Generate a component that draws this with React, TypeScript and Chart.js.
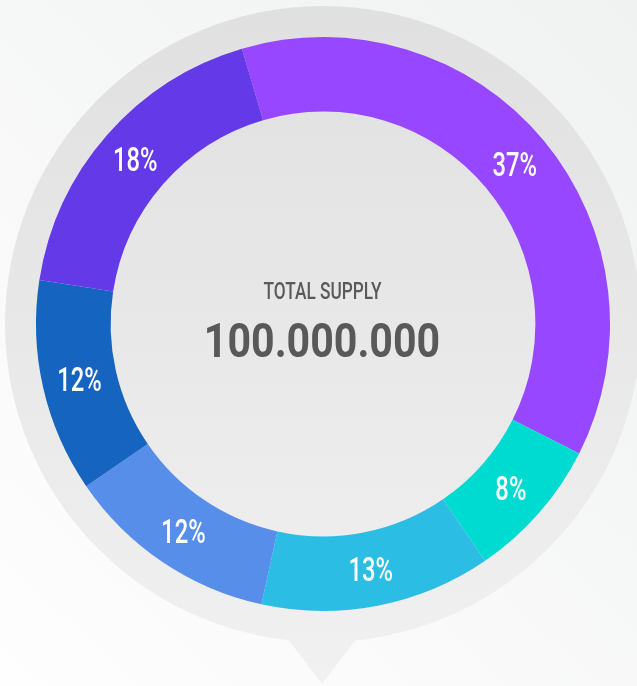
import React, { useEffect, useRef } from "react";
import { Chart, registerables } from "chart.js";

Chart.register(...registerables);

const categories = ["Ecosystem", "Liquidity", "Team", "Marketing", "Reserve", "Public Sale"];
const shares = [37, 8, 13, 12, 12, 18];
const sliceLabels = ["37%", "8%", "13%", "12%", "12%", "18%"];
const sliceColors = ["#9747ff", "#00dbd1", "#2bbde3", "#578eea", "#1565c0", "#6439e8"];
const centerTitle = "TOTAL SUPPLY";
const centerValue = "100.000.000";

const W = 637;
const H = 686;

const backdropPlugin = {
  id: "backdrop",
  beforeDraw(chart: any) {
    const ctx = chart.ctx as CanvasRenderingContext2D;
    const meta = chart.getDatasetMeta(0);
    const arc = meta.data[0] as any;
    const cx = arc.x;
    const cy = arc.y;
    const R = arc.outerRadius + 31;
    ctx.save();
    const bg = ctx.createLinearGradient(W, 0, 0, H);
    bg.addColorStop(0, "#f0f1f1");
    bg.addColorStop(1, "#fefefe");
    ctx.fillStyle = bg;
    ctx.fillRect(0, 0, W, H);

    const g = ctx.createLinearGradient(0, cy - R, 0, H);
    g.addColorStop(0, "#e0e0e0");
    g.addColorStop(1, "#f1f1f1");
    ctx.fillStyle = g;
    ctx.beginPath();
    ctx.arc(cx, cy, R, 0, Math.PI * 2);
    ctx.fill();
    ctx.beginPath();
    ctx.moveTo(cx - 46, cy + R - 17);
    ctx.lineTo(cx + 44, cy + R - 17);
    ctx.lineTo(cx - 1, H - 2);
    ctx.closePath();
    ctx.fill();
    ctx.restore();
  },
};

const labelPlugin = {
  id: "sliceLabels",
  afterDatasetsDraw(chart: any) {
    const ctx = chart.ctx as CanvasRenderingContext2D;
    const meta = chart.getDatasetMeta(0);
    meta.data.forEach((el: any, i: number) => {
      const mid = (el.startAngle + el.endAngle) / 2;
      const r = (el.innerRadius + el.outerRadius) / 2;
      const x = el.x + Math.cos(mid) * r;
      const y = el.y + Math.sin(mid) * r;
      ctx.save();
      ctx.translate(x, y);
      ctx.scale(0.72, 1);
      ctx.fillStyle = "#ffffff";
      ctx.font = "500 33px Roboto";
      ctx.textAlign = "center";
      ctx.textBaseline = "alphabetic";
      ctx.fillText(sliceLabels[i], 0, 11.7);
      ctx.restore();
    });
  },
};

export default function App() {
  const ref = useRef<HTMLCanvasElement>(null);
  useEffect(() => {
    if (!ref.current) return;
    const chart = new Chart(ref.current, {
      type: "doughnut",
      data: {
        labels: categories,
        datasets: [
          {
            data: shares,
            backgroundColor: sliceColors,
            borderWidth: 0,
            hoverOffset: 0,
          },
        ],
      },
      options: {
        responsive: false,
        animation: false,
        rotation: -16.4,
        cutout: "74%",
        layout: { padding: { left: 36, top: 37, right: 27, bottom: 75 } },
        plugins: {
          legend: { display: false },
          tooltip: { enabled: false },
        },
      },
      plugins: [backdropPlugin, labelPlugin],
    });
    return () => chart.destroy();
  }, []);

  return (
    <div style={{ position: "fixed", left: 0, top: 0, width: W, height: H, overflow: "hidden" }}>
      <canvas ref={ref} width={W} height={H} style={{ display: "block" }} />
      <div
        style={{
          position: "absolute",
          left: 0,
          width: 645,
          top: 279,
          textAlign: "center",
          fontFamily: "Roboto",
          fontWeight: 500,
          fontSize: 24,
          lineHeight: "24px",
          color: "#5a5a5a",
          transform: "scaleX(0.72)",
          transformOrigin: "322.5px 0",
        }}
      >
        {centerTitle}
      </div>
      <div
        style={{
          position: "absolute",
          left: 0,
          width: 644,
          top: 315.5,
          textAlign: "center",
          fontFamily: "Roboto",
          fontWeight: 700,
          fontSize: 49,
          lineHeight: "49px",
          color: "#595959",
          transform: "scaleX(0.84)",
          transformOrigin: "322px 0",
        }}
      >
        {centerValue}
      </div>
    </div>
  );
}
